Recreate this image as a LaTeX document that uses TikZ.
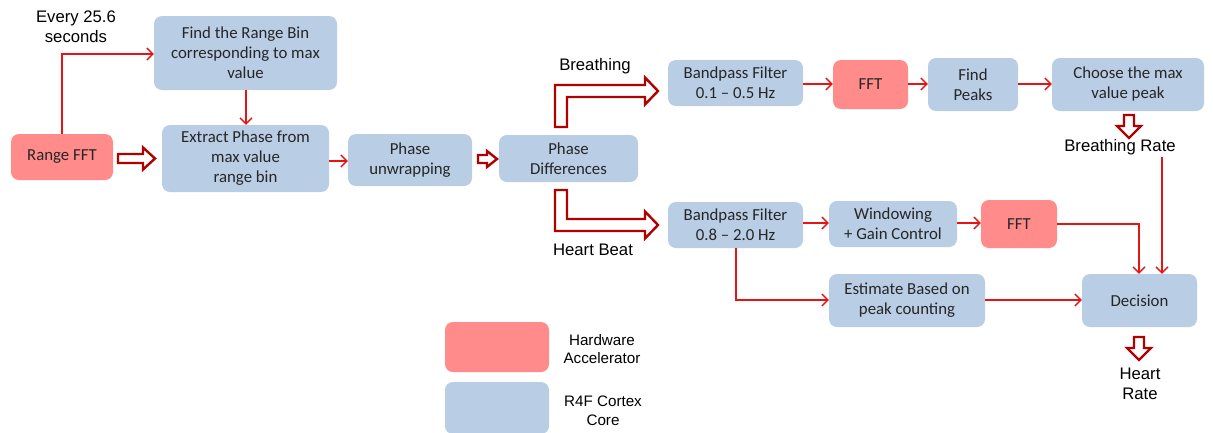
\documentclass[tikz,border=0pt]{standalone}
\usepackage{fontspec}
\setmainfont{Carlito}
\newfontfamily\arialf{Liberation Sans}
\usetikzlibrary{arrows.meta}
\definecolor{boxblue}{HTML}{B9CDE5}
\definecolor{boxred}{HTML}{FF8B8B}
\definecolor{linered}{RGB}{232,20,20}
\definecolor{blockred}{RGB}{176,0,0}
\definecolor{txt}{HTML}{262626}
\tikzset{
  bbox/.style={draw=none, fill=boxblue, rounded corners=8pt, align=center, text=txt,
    font=\fontsize{16.8}{20}\selectfont, inner sep=0pt},
  rbox/.style={bbox, fill=boxred},
  thin/.style={draw=linered, line width=1.3pt, -{Straight Barb[length=6pt,width=12pt,line width=1.3pt]}},
  block/.style={draw=blockred, line width=2.4pt, fill=white, line join=miter},
  lab/.style={align=center, text=black, font=\arialf\fontsize{16.7}{20}\selectfont, inner sep=0pt},
  leglab/.style={align=center, text=black, font=\arialf\fontsize{15.2}{18.5}\selectfont, inner sep=0pt}
}
\begin{document}
\begin{tikzpicture}[x=1pt,y=-1pt]
\useasboundingbox[fill=white] (0,0) rectangle (1213,432);
% boxes
\node[rbox, minimum width=102pt, minimum height=46pt] (rfft) at (62,157) {Range FFT};
\node[bbox, minimum width=183pt, minimum height=74pt] (find) at (245.5,53) {Find the Range Bin\\corresponding to max\\value};
\node[bbox, minimum width=167pt, minimum height=67pt] (extract) at (245.5,158.5) {Extract Phase from\\max value\\range bin};
\node[bbox, minimum width=124pt, minimum height=52pt] (unwrap) at (410,160) {Phase\\unwrapping};
\node[bbox, minimum width=139pt, minimum height=47pt] (diff) at (568.5,158.5) {Phase\\Differences};
\node[bbox, minimum width=135pt, minimum height=46pt] (bp1) at (735.5,83) {Bandpass Filter\\0.1 -- 0.5 Hz};
\node[rbox, minimum width=75pt, minimum height=49pt] (fft1) at (870.5,84.5) {FFT};
\node[bbox, minimum width=90pt, minimum height=53pt] (peaks) at (973,84.5) {Find\\Peaks};
\node[bbox, minimum width=152pt, minimum height=53pt] (choose) at (1128,84.5) {Choose the max\\value peak};
\node[bbox, minimum width=135pt, minimum height=46pt] (bp2) at (735.5,225) {Bandpass Filter\\0.8 -- 2.0 Hz};
\node[bbox, minimum width=128pt, minimum height=46pt] (win) at (893,224) {Windowing\\+ Gain Control};
\node[rbox, minimum width=76pt, minimum height=48pt] (fft2) at (1019,224) {FFT};
\node[bbox, minimum width=156pt, minimum height=53pt] (est) at (907,300.5) {Estimate Based on\\peak counting};
\node[bbox, minimum width=115pt, minimum height=53pt] (dec) at (1139.5,300.5) {Decision};
% legend
\node[rbox, minimum width=104pt, minimum height=50pt] (legr) at (497,347) {};
\node[bbox, minimum width=104pt, minimum height=52pt] (legb) at (497,408) {};
\node[leglab] (legrt) at (602,349) {Hardware\\Accelerator};
\node[leglab] (legbt) at (603,411) {R4F Cortex\\Core};
% free labels
\node[lab] (every) at (76,27) {Every 25.6\\seconds};
\node[lab] (breath) at (595,66) {Breathing};
\node[lab] (heart) at (593,250) {Heart Beat};
\node[lab] (brate) at (1120,147) {Breathing Rate};
\node[lab] (hrate) at (1140,384) {Heart\\Rate};
% thin connectors
\draw[thin] (rfft.north) |- (find.west |- 0,54);
\draw[thin] (find.south -| 246,0) -- (extract.north -| 246,0);
\draw[thin] (extract.east |- 0,161) -- (unwrap.west |- 0,161);
\draw[thin] (bp1.east |- 0,84) -- (fft1.west |- 0,84);
\draw[thin] (fft1.east |- 0,84) -- (peaks.west |- 0,84);
\draw[thin] (peaks.east |- 0,84) -- (choose.west |- 0,84);
\draw[thin] (bp2.east |- 0,223) -- (win.west |- 0,223);
\draw[thin] (win.east |- 0,223) -- (fft2.west |- 0,223);
\draw[thin] (fft2.east |- 0,224) -| (dec.north -| 1139,0);
\draw[thin] (brate.south -| 1162,0) ++(0,2) -- (dec.north -| 1162,0);
\draw[thin] (bp2.south -| 736,0) |- (est.west |- 0,300);
\draw[thin] (est.east |- 0,300) -- (dec.west |- 0,300);
% block arrows
\draw[block] (118,154) -- (143,154) -- (143,147.5) -- (155,158.5) -- (143,169.5) -- (143,163) -- (118,163) -- cycle;
\draw[block] (478,155) -- (487,155) -- (487,151) -- (497,159) -- (487,167) -- (487,163) -- (478,163) -- cycle;
\draw[block] (555,127) -- (555,85) -- (645,85) -- (645,77.5) -- (658,91) -- (645,104.5) -- (645,97) -- (567,97) -- (567,127) -- cycle;
\draw[block] (555,190) -- (555,231) -- (645,231) -- (645,238.5) -- (658,225) -- (645,211.5) -- (645,219) -- (567,219) -- (567,190) -- cycle;
\draw[block] (1124,115) -- (1134,115) -- (1134,126) -- (1141,126) -- (1129,138) -- (1117,126) -- (1124,126) -- cycle;
\draw[block] (1134,337) -- (1144,337) -- (1144,348) -- (1151,348) -- (1139,360) -- (1127,348) -- (1134,348) -- cycle;
\end{tikzpicture}
\end{document}
